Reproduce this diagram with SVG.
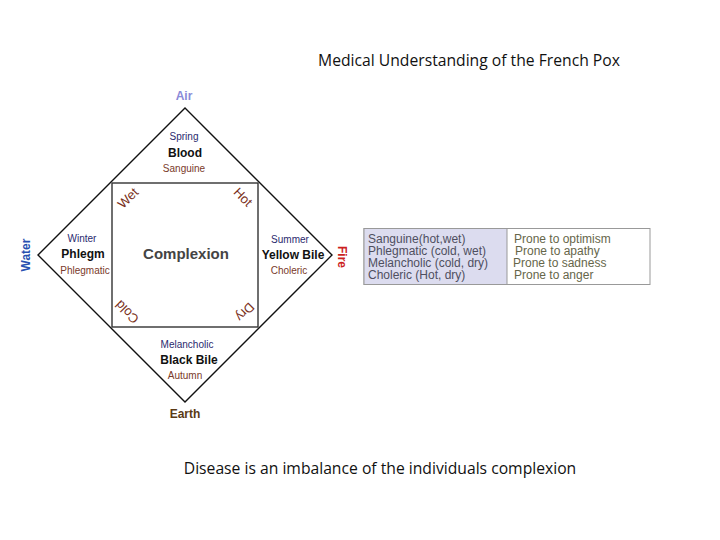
<svg xmlns="http://www.w3.org/2000/svg" width="720" height="540" viewBox="0 0 720 540">
<style>
.d{font-family:"Liberation Sans",Arial,sans-serif;text-anchor:middle}
.b{font-weight:bold}
.season{font-size:10px;fill:#2a2a6e}
.temp{font-size:10px;fill:#7a3a2a}
.humor{font-size:12px;font-weight:bold;fill:#111}
.qual{font-size:13px;fill:#7a3020}
.elem{font-size:12px;font-weight:bold}
.cap{font-family:"Open Sans","Liberation Sans",sans-serif;font-size:15.7px;fill:#111;text-anchor:middle}
.tl{font-family:"Liberation Sans",Arial,sans-serif;font-size:12px;fill:#4f4f5f}
.tr{font-family:"Liberation Sans",Arial,sans-serif;font-size:12px;fill:#66664a}
</style>
<rect width="720" height="540" fill="#fff"/>
<text id="title" class="cap" x="469" y="66">Medical Understanding of the French Pox</text>

<g id="connectors" fill="none" stroke-linejoin="miter">
<polygon points="185,108 332,255 185,402 38,255" stroke="#111" stroke-width="1.4"/>
<rect x="112" y="183" width="146" height="144" stroke="#333" stroke-width="1.4"/>
</g>

<g id="air"><text class="d elem" x="184" y="100" fill="#8a8ad8">Air</text></g>
<g id="blood">
<text class="d season" x="184" y="139.5">Spring</text>
<text class="d humor" x="185" y="157">Blood</text>
<text class="d temp" x="184" y="171.5">Sanguine</text>
</g>
<g id="phlegm">
<text class="d season" x="82" y="241.5">Winter</text>
<text class="d humor" x="83" y="258">Phlegm</text>
<text class="d temp" x="85" y="273.5">Phlegmatic</text>
</g>
<g id="complexion"><text class="d b" x="186" y="259" font-size="15" fill="#444">Complexion</text></g>
<g id="yellowbile">
<text class="d season" x="290" y="242.5">Summer</text>
<text class="d humor" x="293" y="259">Yellow Bile</text>
<text class="d temp" x="289" y="273.5">Choleric</text>
</g>
<g id="blackbile">
<text class="d season" x="187" y="347.5">Melancholic</text>
<text class="d humor" x="189" y="364">Black Bile</text>
<text class="d temp" x="185" y="378.5">Autumn</text>
</g>
<g id="earth"><text class="d elem" x="185" y="418" fill="#5a3a15">Earth</text></g>
<g id="water"><text class="d elem" transform="translate(25,255) rotate(-90)" x="0" y="4.5" fill="#2850b0">Water</text></g>
<g id="fire"><text class="d elem" transform="translate(342,257) rotate(90)" x="0" y="4.5" fill="#cc1f1f">Fire</text></g>

<g id="wet"><text class="d qual" transform="translate(128,198) rotate(-45)" x="0" y="4.5">Wet</text></g>
<g id="hot"><text class="d qual" transform="translate(243,197) rotate(45)" x="0" y="4.5">Hot</text></g>
<g id="cold"><text class="d qual" transform="translate(127,312) rotate(-135)" x="0" y="4.5">Cold</text></g>
<g id="dry"><text class="d qual" transform="translate(245,312) rotate(135)" x="0" y="4.5">Dry</text></g>

<g id="table">
<rect x="364" y="228.5" width="286" height="56" fill="#fff" stroke="#999" stroke-width="1"/>
<rect x="364" y="228.5" width="143" height="56" fill="#dcdcef" stroke="#999" stroke-width="1"/>
<text class="tl" x="368" y="243">Sanguine(hot,wet)</text>
<text class="tl" x="368" y="255">Phlegmatic (cold, wet)</text>
<text class="tl" x="368" y="267">Melancholic (cold, dry)</text>
<text class="tl" x="368" y="279">Choleric (Hot, dry)</text>
<text class="tr" x="514" y="243">Prone to optimism</text>
<text class="tr" x="515" y="255">Prone to apathy</text>
<text class="tr" x="513" y="267">Prone to sadness</text>
<text class="tr" x="514" y="279">Prone to anger</text>
</g>

<text id="footer" class="cap" x="380" y="474">Disease is an imbalance of the individuals complexion</text>
</svg>
